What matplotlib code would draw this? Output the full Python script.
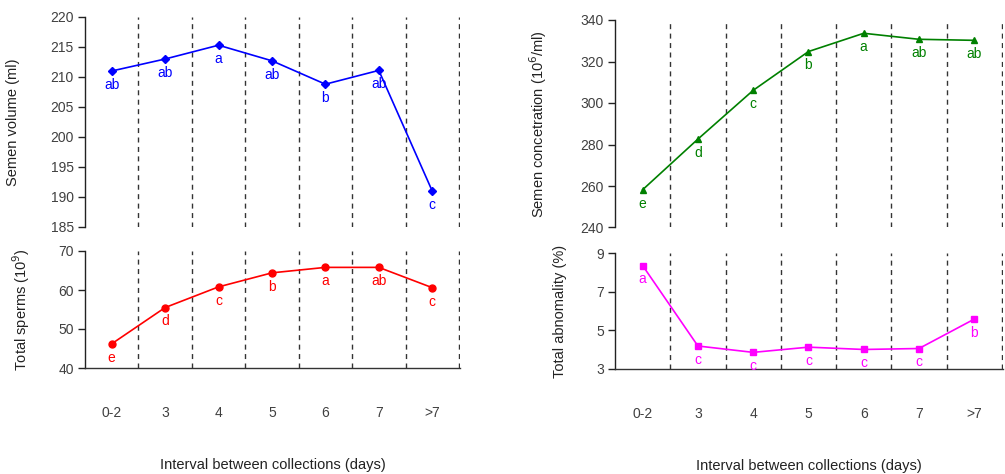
import matplotlib
matplotlib.use("Agg")
import matplotlib.pyplot as plt

plt.rcParams['font.family'] = ['Liberation Sans', 'DejaVu Sans']

categories = ["0-2", "3", "4", "5", "6", "7", ">7"]

volume = [211.0, 213.0, 215.3, 212.7, 208.8, 211.1, 191.0]
volume_letters = ["ab", "ab", "a", "ab", "b", "ab", "c"]

sperms = [46.2, 55.5, 60.8, 64.4, 65.8, 65.8, 60.6]
sperms_letters = ["e", "d", "c", "b", "a", "ab", "c"]

concentration = [258.2, 282.6, 306.1, 324.8, 333.6, 330.7, 330.2]
concentration_letters = ["e", "d", "c", "b", "a", "ab", "ab"]

abnormality = [8.35, 4.19, 3.86, 4.13, 4.01, 4.06, 5.58]
abnormality_letters = ["a", "c", "c", "c", "c", "c", "b"]

W, H = 1005, 474
fig = plt.figure(figsize=(W / 100, H / 100), dpi=100)
TXT = '#404040'
LAB = '#222222'


def px_axes(x0, x1, ytop, ybot):
    ax = fig.add_axes([x0 / W, (H - ybot) / H, (x1 - x0) / W, (ybot - ytop) / H])
    ax._px = (x0, x1, ytop, ybot)
    return ax


def style(ax, ylim, yticks, bottom):
    n = len(categories)
    x = list(range(n))
    ax.set_xlim(-0.5, n - 0.5 + 0.02)
    ax.set_ylim(*ylim)
    ax.set_yticks(yticks)
    for s in ['top', 'right']:
        ax.spines[s].set_visible(False)
    ax.spines['left'].set_color('#222222')
    ax.spines['left'].set_linewidth(1.0)
    ax.tick_params(axis='y', direction='out', length=5, width=1,
                   colors='#222222', labelcolor=TXT, labelsize=10, pad=3)
    for i in range(n):
        ax.axvline(i + 0.5, color='#333333', lw=1.0, ls=(0, (3.6, 3.2)))
    if bottom:
        ax.spines['bottom'].set_color('#333333')
        ax.spines['bottom'].set_linewidth(1.0)
        ax.set_xticks(x)
        ax.set_xticklabels(categories)
        ax.tick_params(axis='x', length=0, pad=27.5, labelcolor=TXT, labelsize=10)
        ax.set_xlabel("Interval between collections (days)", fontsize=10.5,
                      color=LAB, labelpad=27)
    else:
        ax.spines['bottom'].set_visible(False)
        ax.set_xticks([])


def ylabel(ax, text, xpix):
    x0, x1, _, _ = ax._px
    ax.set_ylabel(text, fontsize=10.5, color=LAB)
    ax.yaxis.set_label_coords((xpix + 6 - x0) / (x1 - x0), 0.5)


def series(ax, vals, letters, color, marker, ms):
    x = list(range(len(vals)))
    ax.plot(x, vals, color=color, lw=1.2, marker=marker, ms=ms, clip_on=False)
    for xi, v, t in zip(x, vals, letters):
        ax.annotate(t, (xi, v), xytext=(0, -10), textcoords='offset points',
                    ha='center', va='center', color=color, fontsize=10)


# Left top
ax1 = px_axes(85, 460, 17, 227)
style(ax1, (185, 220), range(185, 221, 5), False)
series(ax1, volume, volume_letters, '#0000ff', 'D', 4)
ylabel(ax1, "Semen volume (ml)", 14)

# Left bottom
ax2 = px_axes(85, 460, 251, 368)
style(ax2, (40, 70), [40, 50, 60, 70], True)
series(ax2, sperms, sperms_letters, '#ff0000', 'o', 5)
ylabel(ax2, "Total sperms (10$^{9}$)", 26)

# Right top
ax3 = px_axes(615, 1003, 20, 227.5)
style(ax3, (240, 340), range(240, 341, 20), False)
series(ax3, concentration, concentration_letters, '#008000', '^', 5)
ylabel(ax3, "Semen concetration (10$^{6}$/ml)", 543)

# Right bottom
ax4 = px_axes(615, 1003, 253, 369)
style(ax4, (3, 9), [3, 5, 7, 9], True)
series(ax4, abnormality, abnormality_letters, '#ff00ff', 's', 4.5)
ylabel(ax4, "Total abnomality (%)", 561)

fig.savefig("out.png", dpi=100)
